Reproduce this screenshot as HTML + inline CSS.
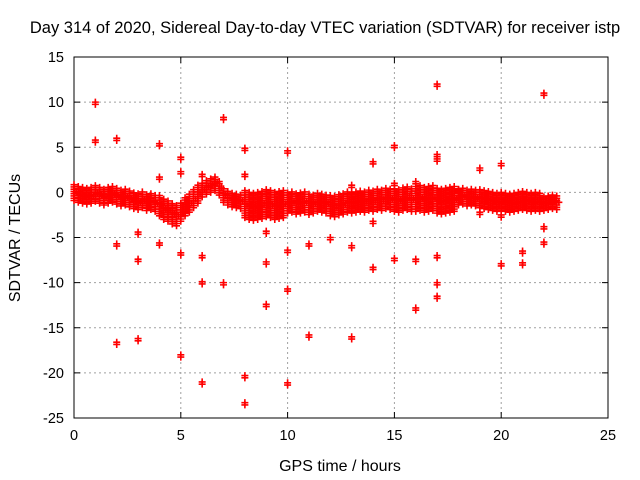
<!DOCTYPE html>
<html><head><meta charset="utf-8"><style>
body{margin:0;background:#fff}
svg{display:block;font-family:"Liberation Sans",sans-serif}
</style></head><body>
<svg id="chart" width="640" height="480">
<rect x="0" y="0" width="640" height="480" fill="#fff"/>
<text x="325" y="33" text-anchor="middle" font-size="16.5">Day 314 of 2020, Sidereal Day-to-day VTEC variation (SDTVAR) for receiver istp</text>
<text x="340" y="471" text-anchor="middle" font-size="16">GPS time / hours</text>
<text x="20" y="238" text-anchor="middle" font-size="16" transform="rotate(-90 20 238)">SDTVAR / TECUs</text>
<g id="grid"></g>
<g id="axes"></g>
<g id="marks"></g>
</svg>
<script>
const xTicks=[0,5,10,15,20,25];
const yTicks=[15,10,5,0,-5,-10,-15,-20,-25];
const baseStart=0, baseStep=0.2;
const baseMeans=[0,-0.2,-0.3,-0.4,-0.3,-0.1,-0.3,-0.5,-0.3,-0.2,-0.4,-0.6,-0.5,-0.7,-0.9,-1.0,-0.8,-1.1,-1.0,-1.2,-1.4,-1.8,-2.0,-2.3,-2.5,-2.2,-1.6,-1.2,-0.7,-0.2,0.3,0.6,0.8,1.0,0.5,-0.3,-0.6,-0.8,-0.9,-1.0,-1.3,-1.5,-1.6,-1.5,-1.4,-1.2,-1.3,-1.5,-1.4,-1.3,-1.1,-1.0,-1.2,-1.1,-1.0,-1.2,-1.3,-1.1,-1.2,-1.3,-1.4,-1.5,-1.3,-1.2,-1.0,-1.1,-1.0,-0.9,-1.0,-0.8,-0.9,-0.7,-0.8,-0.6,-0.7,-0.8,-0.9,-0.7,-0.6,-0.8,-0.7,-0.6,-0.8,-0.7,-0.6,-0.9,-1.0,-0.9,-0.8,-0.7,-0.5,-0.4,-0.6,-0.5,-0.6,-0.7,-0.8,-0.9,-1.0,-1.1,-1.0,-1.1,-1.2,-1.1,-1.0,-0.9,-1.0,-1.1,-1.0,-1.1,-1.2,-1.1,-1.0,-1.1];
const hourBands=[0.9,0.9,0.9,0.9,1.2,1.0,0.8,0.8,1.5,1.5,1.2,1.0,1.2,1.2,1.2,1.3,1.4,1.4,0.9,1.0,1.0,1.0,0.8];
const outT=[1,1,2,2,2,3,3,3,4,4,4,5,5,5,5,6,6,6,6,7,7,8,8,8,8,9,9,9,10,10,10,10,11,11,11,12,13,13,13,14,14,14,15,15,15,16,16,16,17,17,17,17,17,17,18,19,19,20,20,20,21,21,22,22,22];
const outV=[10,5.8,6,-5.7,-16.6,-7.4,-16.2,-4.4,5.4,1.7,-5.6,3.9,2.3,-6.7,-18,-7,-9.9,-21,2,8.3,-10,4.9,2,-20.3,-23.3,-4.3,-7.7,-12.4,4.6,-6.4,-10.7,-21.1,-5.7,-15.8,-2.2,-5,0.8,-5.9,-16,3.4,-8.3,-3.2,5.2,-7.3,1,-7.4,-12.8,1.2,12,4.2,3.7,-7,-10,-11.5,0.3,2.7,-2.2,3.2,-7.9,-2.5,-6.5,-7.8,11,-3.8,-5.5];
const X0=74,X1=608,Y0=57,Y1=418;
const sx=v=>X0+(v-0)/(25-0)*(X1-X0);
const sy=v=>Y1-(v+25)/(40)*(Y1-Y0);
const NS="http://www.w3.org/2000/svg";
const grid=document.getElementById('grid'),axes=document.getElementById('axes'),marks=document.getElementById('marks');
function mk(tag,attrs,parent){const e=document.createElementNS(NS,tag);for(const k in attrs)e.setAttribute(k,attrs[k]);parent.appendChild(e);return e;}
xTicks.forEach(t=>{
  const x=sx(t);
  if(t>0&&t<25){const g=mk('line',{x1:x,x2:x,y1:Y0,y2:Y1,stroke:'#a0a0a0','stroke-dasharray':'2,3'},grid);
  
  }
  mk('line',{x1:x,x2:x,y1:Y1,y2:Y1-6,stroke:'#000'},axes);
  mk('line',{x1:x,x2:x,y1:Y0,y2:Y0+6,stroke:'#000'},axes);
  const l=mk('text',{x:x,y:Y1+22,'text-anchor':'middle','font-size':14.5},axes);
  l.textContent=t;
  
  
});
yTicks.forEach(t=>{
  const y=sy(t);
  if(t<15&&t>-25){const g=mk('line',{x1:X0,x2:X1,y1:y,y2:y,stroke:'#a0a0a0','stroke-dasharray':'2,3'},grid);
  
  }
  mk('line',{x1:X0,x2:X0+6,y1:y,y2:y,stroke:'#000'},axes);
  mk('line',{x1:X1,x2:X1-6,y1:y,y2:y,stroke:'#000'},axes);
  const l=mk('text',{x:X0-10,y:y+5,'text-anchor':'end','font-size':14.5},axes);
  l.textContent=t;
  
  
});
const fr=mk('rect',{x:X0,y:Y0,width:X1-X0,height:Y1-Y0,fill:'none',stroke:'#000'},axes);


function plus(t,v){
  const x=sx(t),y=sy(v);
  const p=mk('path',{d:`M${x-3.5},${y}h7M${x},${y-3.5}v7`,stroke:'#f00','stroke-width':1.6},marks);
  
  
}
baseMeans.forEach((m,i)=>{
  const t=baseStart+i*baseStep;
  const b=hourBands[Math.min(hourBands.length-1,Math.floor(t))];
  for(let d=-b;d<=b+1e-9;d+=0.25) plus(t,m+d);
  plus(t+0.1,m);
});
outT.forEach((t,i)=>{plus(t,outV[i]);plus(t,outV[i]-0.25);});
</script>
</body></html>
